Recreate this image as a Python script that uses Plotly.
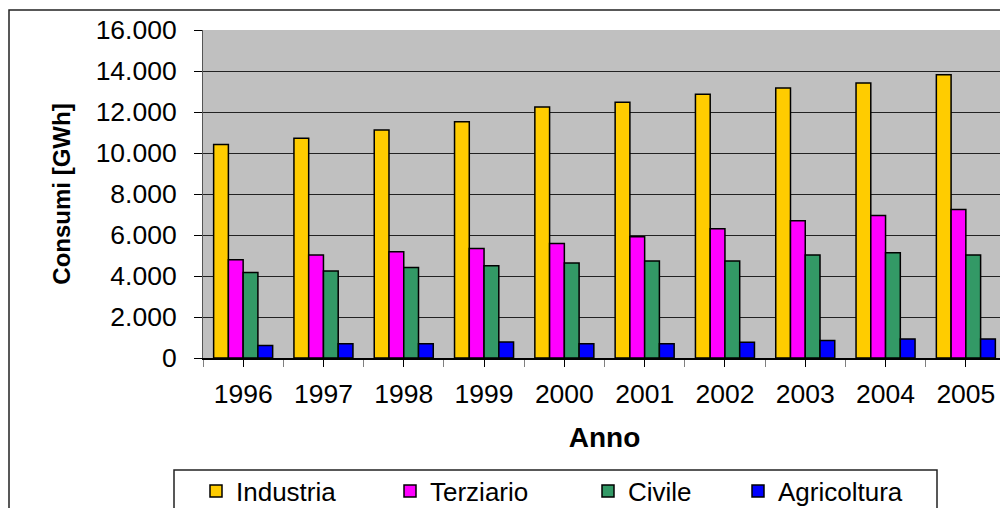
import plotly.graph_objects as go

# Consumi elettrici per settore [GWh]
anni = [1996, 1997, 1998, 1999, 2000, 2001, 2002, 2003, 2004, 2005]
industria = [10420, 10720, 11120, 11520, 12240, 12470, 12870, 13170, 13420, 13820]
terziario = [4790, 5030, 5180, 5340, 5590, 5920, 6310, 6700, 6950, 7240]
civile = [4170, 4250, 4410, 4500, 4640, 4730, 4730, 5030, 5130, 5030]
agricoltura = [610, 690, 690, 780, 690, 690, 770, 850, 930, 930]

serie = [
    ("Industria", industria, "#FFCC00"),
    ("Terziario", terziario, "#FF00FF"),
    ("Civile", civile, "#339966"),
    ("Agricoltura", agricoltura, "#0000FF"),
]

# la pagina html ha un margine di 8px attorno al grafico
OFF = 8
W, H = 1008, 508
ML, MR, MT, MB = 203 - OFF, 10, 30 - OFF, 150 + OFF
PW, PH = W - ML - MR, H - MT - MB


def px_x(px):
    return (px - OFF - ML) / PW


def px_y(py):
    return (H - MB - (py - OFF)) / PH


FONT = "Liberation Sans, Arial, sans-serif"

fig = go.Figure()

legend_x = [196, 390, 588, 738]
for i, (name, vals, col) in enumerate(serie):
    lg = "legend" if i == 0 else f"legend{i + 1}"
    fig.add_trace(go.Bar(
        x=anni,
        y=vals,
        name=name,
        marker=dict(color=col, line=dict(color="black", width=1.5)),
        legend=lg,
    ))
    fig.update_layout({lg: dict(
        x=px_x(legend_x[i]),
        xanchor="left",
        y=px_y(491),
        yanchor="middle",
        orientation="h",
        bgcolor="rgba(0,0,0,0)",
        borderwidth=0,
        font=dict(family=FONT, size=26, color="black"),
    )})

fig.update_xaxes(
    range=[anni[0] - 0.5, anni[-1] + 0.5],
    tickvals=anni,
    ticktext=[str(a) for a in anni],
    ticks="outside",
    ticklen=7,
    tickcolor="black",
    ticklabelstandoff=4,
    minor=dict(tick0=anni[0] - 0.5, dtick=1, ticks="outside", ticklen=7,
               tickcolor="#808080", showgrid=False),
    showgrid=False,
    showline=True,
    linecolor="black",
    linewidth=1.5,
    tickfont=dict(family=FONT, size=26.5, color="black"),
    title=dict(text="<b>Anno</b>", font=dict(family=FONT, size=28, color="black"),
               standoff=20),
)

fig.update_yaxes(
    range=[0, 16000],
    dtick=2000,
    tickformat=",.0f",
    ticks="outside",
    ticklen=8,
    tickcolor="black",
    ticklabelstandoff=12,
    showgrid=True,
    gridcolor="#222222",
    gridwidth=1,
    showline=True,
    linecolor="#555555",
    linewidth=1,
    zeroline=False,
    tickfont=dict(family=FONT, size=26.5, color="black"),
    title=dict(text="<b>Consumi [GWh]</b>", font=dict(family=FONT, size=24, color="black"),
               standoff=18),
)

fig.update_layout(
    width=W,
    height=H,
    margin=dict(l=ML, r=MR, t=MT, b=MB, autoexpand=False),
    plot_bgcolor="#C0C0C0",
    paper_bgcolor="white",
    barmode="group",
    bargap=0.265,
    bargroupgap=0,
    separators=",.",
    showlegend=True,
    font=dict(family=FONT, color="black"),
    shapes=[
        # cornice del grafico
        dict(type="rect", xref="paper", yref="paper",
             x0=px_x(9), x1=px_x(1040), y0=px_y(540), y1=px_y(10),
             line=dict(color="#222222", width=1.5), layer="below"),
        # riquadro legenda
        dict(type="rect", xref="paper", yref="paper",
             x0=px_x(174), x1=px_x(937), y0=px_y(540), y1=px_y(470),
             line=dict(color="#222222", width=1.5), layer="below"),
    ],
)

fig.write_html("out.html")
